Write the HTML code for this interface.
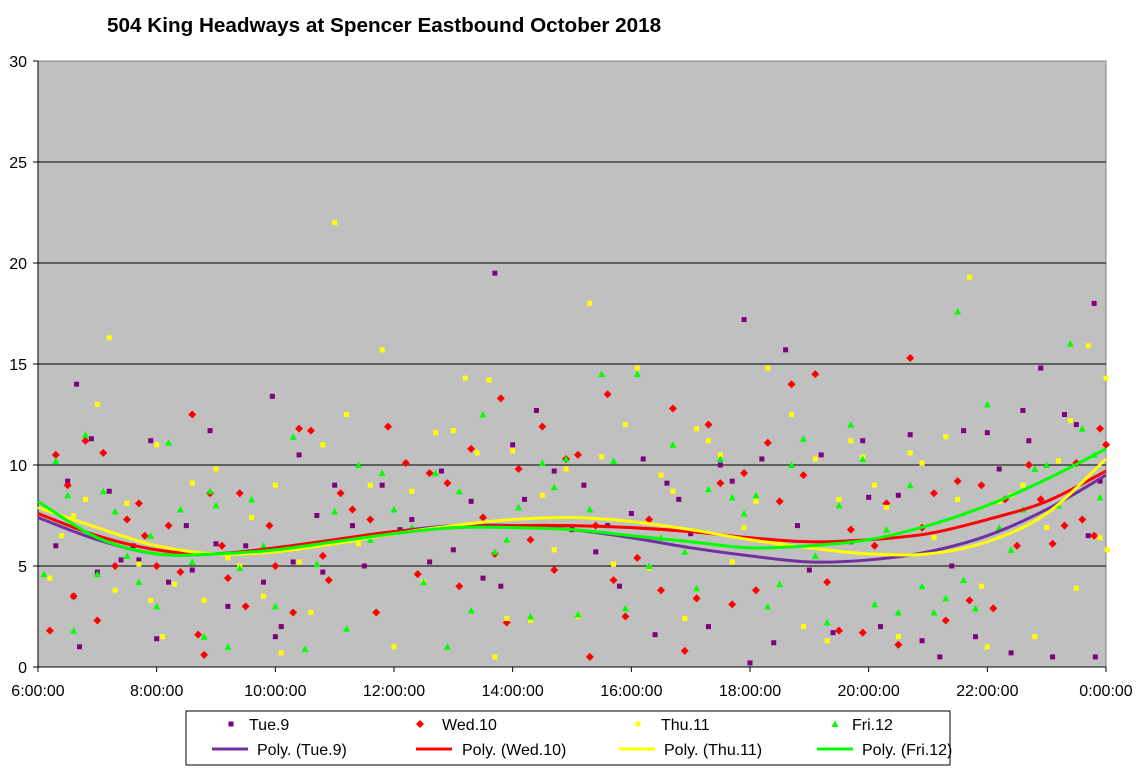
<!DOCTYPE html>
<html><head><meta charset="utf-8"><style>
body{margin:0;background:#fff;font-family:"Liberation Sans",Arial,sans-serif}
svg text{font-family:"Liberation Sans",Arial,sans-serif}
</style></head><body>
<svg id="c" width="1136" height="774" xmlns="http://www.w3.org/2000/svg">
<text x="107" y="32" font-size="20.7" font-weight="bold">504 King Headways at Spencer Eastbound October 2018</text>
<rect x="38" y="61" width="1068" height="606" fill="#c0c0c0" stroke="#808080"/>
<g id="grid"></g><g id="axes"></g><g id="marks"></g><g id="trends"></g>
<g>
<rect x="186" y="711" width="764" height="54" fill="#fff" stroke="#000"/>
</g>
<g id="leg"></g>
</svg>
<script>
const yTicks=[0,5,10,15,20,25,30];
const xTicks=[6,8,10,12,14,16,18,20,22,24];
const xTickLabels=["6:00:00","8:00:00","10:00:00","12:00:00","14:00:00","16:00:00","18:00:00","20:00:00","22:00:00","0:00:00"];
const tue=[[6.3,6.0],[6.5,9.2],[6.6,3.5],[6.65,14.0],[6.7,1.0],[6.9,11.3],[7.0,4.7],[7.2,8.7],[7.4,5.3],[7.6,6.0],[7.7,5.3],[7.9,11.2],[8.0,1.4],[8.2,4.2],[8.5,7.0],[8.6,4.8],[8.9,11.7],[9.0,6.1],[9.2,3.0],[9.5,6.0],[9.8,4.2],[9.95,13.4],[10.0,1.5],[10.1,2.0],[10.3,5.2],[10.4,10.5],[10.7,7.5],[10.8,4.7],[11.0,9.0],[11.3,7.0],[11.5,5.0],[11.8,9.0],[12.1,6.8],[12.3,7.3],[12.6,5.2],[12.8,9.7],[13.0,5.8],[13.3,8.2],[13.5,4.4],[13.7,19.5],[13.8,4.0],[14.0,11.0],[14.2,8.3],[14.4,12.7],[14.7,9.7],[15.0,6.8],[15.2,9.0],[15.4,5.7],[15.6,7.0],[15.8,4.0],[16.0,7.6],[16.2,10.3],[16.4,1.6],[16.6,9.1],[16.8,8.3],[17.0,6.6],[17.3,2.0],[17.5,10.0],[17.7,9.2],[17.9,17.2],[18.0,0.2],[18.2,10.3],[18.4,1.2],[18.6,15.7],[18.8,7.0],[19.0,4.8],[19.2,10.5],[19.4,1.7],[19.7,6.2],[19.9,11.2],[20.0,8.4],[20.2,2.0],[20.5,8.5],[20.7,11.5],[20.9,1.3],[21.2,0.5],[21.4,5.0],[21.6,11.7],[21.8,1.5],[22.0,11.6],[22.2,9.8],[22.4,0.7],[22.6,12.7],[22.7,11.2],[22.9,14.8],[23.1,0.5],[23.3,12.5],[23.5,12.0],[23.7,6.5],[23.8,18.0],[23.82,0.5],[23.9,9.2]];
const wed=[[6.2,1.8],[6.3,10.5],[6.5,9.0],[6.6,3.5],[6.8,11.2],[7.0,2.3],[7.1,10.6],[7.3,5.0],[7.5,7.3],[7.7,8.1],[7.8,6.5],[8.0,5.0],[8.2,7.0],[8.4,4.7],[8.6,12.5],[8.7,1.6],[8.8,0.6],[8.9,8.6],[9.1,6.0],[9.2,4.4],[9.4,8.6],[9.5,3.0],[9.8,5.8],[9.9,7.0],[10.0,5.0],[10.3,2.7],[10.4,11.8],[10.6,11.7],[10.8,5.5],[10.9,4.3],[11.1,8.6],[11.3,7.8],[11.6,7.3],[11.7,2.7],[11.9,11.9],[12.2,10.1],[12.4,4.6],[12.6,9.6],[12.9,9.1],[13.1,4.0],[13.3,10.8],[13.5,7.4],[13.7,5.6],[13.8,13.3],[13.9,2.2],[14.1,9.8],[14.3,6.3],[14.5,11.9],[14.7,4.8],[14.9,10.3],[15.1,10.5],[15.3,0.5],[15.4,7.0],[15.6,13.5],[15.7,4.3],[15.9,2.5],[16.1,5.4],[16.3,7.3],[16.5,3.8],[16.7,12.8],[16.9,0.8],[17.1,3.4],[17.3,12.0],[17.5,9.1],[17.7,3.1],[17.9,9.6],[18.1,3.8],[18.3,11.1],[18.5,8.2],[18.7,14.0],[18.9,9.5],[19.1,14.5],[19.3,4.2],[19.5,1.8],[19.7,6.8],[19.9,1.7],[20.1,6.0],[20.3,8.1],[20.5,1.1],[20.7,15.3],[20.9,6.9],[21.1,8.6],[21.3,2.3],[21.5,9.2],[21.7,3.3],[21.9,9.0],[22.1,2.9],[22.3,8.3],[22.5,6.0],[22.7,10.0],[22.9,8.3],[23.1,6.1],[23.3,7.0],[23.5,10.1],[23.6,7.3],[23.8,6.5],[23.9,11.8],[24.0,11.0]];
const thu=[[6.2,4.4],[6.4,6.5],[6.6,7.5],[6.8,8.3],[7.0,13.0],[7.2,16.3],[7.3,3.8],[7.5,8.1],[7.7,5.1],[7.9,3.3],[8.0,11.0],[8.1,1.5],[8.3,4.1],[8.6,9.1],[8.8,3.3],[9.0,9.8],[9.2,5.4],[9.4,5.0],[9.6,7.4],[9.8,3.5],[10.0,9.0],[10.1,0.7],[10.4,5.2],[10.6,2.7],[10.8,11.0],[11.0,22.0],[11.2,12.5],[11.4,6.1],[11.6,9.0],[11.8,15.7],[12.0,1.0],[12.3,8.7],[12.5,4.2],[12.7,11.6],[13.0,11.7],[13.2,14.3],[13.4,10.6],[13.6,14.2],[13.7,0.5],[13.9,2.4],[14.0,10.7],[14.3,2.3],[14.5,8.5],[14.7,5.8],[14.9,9.8],[15.1,2.5],[15.3,18.0],[15.5,10.4],[15.7,5.1],[15.9,12.0],[16.1,14.8],[16.3,4.9],[16.5,9.5],[16.7,8.7],[16.9,2.4],[17.1,11.8],[17.3,11.2],[17.5,10.5],[17.7,5.2],[17.9,6.9],[18.1,8.2],[18.3,14.8],[18.5,6.1],[18.7,12.5],[18.9,2.0],[19.1,10.3],[19.3,1.3],[19.5,8.3],[19.7,11.2],[19.9,10.4],[20.1,9.0],[20.3,7.9],[20.5,1.5],[20.7,10.6],[20.9,10.1],[21.1,6.4],[21.3,11.4],[21.5,8.3],[21.7,19.3],[21.9,4.0],[22.0,1.0],[22.2,8.2],[22.4,8.5],[22.6,9.0],[22.8,1.5],[23.0,6.9],[23.2,10.2],[23.4,12.2],[23.5,3.9],[23.7,15.9],[23.9,6.4],[24.0,14.3],[24.02,5.8]];
const fri=[[6.1,4.6],[6.3,10.2],[6.5,8.5],[6.6,1.8],[6.8,11.5],[7.0,4.6],[7.1,8.7],[7.3,7.7],[7.5,5.5],[7.7,4.2],[7.9,6.5],[8.0,3.0],[8.2,11.1],[8.4,7.8],[8.6,5.2],[8.8,1.5],[8.9,8.7],[9.0,8.0],[9.2,1.0],[9.4,4.9],[9.6,8.3],[9.8,6.0],[10.0,3.0],[10.3,11.4],[10.5,0.9],[10.7,5.1],[11.0,7.7],[11.2,1.9],[11.4,10.0],[11.6,6.3],[11.8,9.6],[12.0,7.8],[12.3,6.9],[12.5,4.2],[12.7,9.6],[12.9,1.0],[13.1,8.7],[13.3,2.8],[13.5,12.5],[13.7,5.7],[13.9,6.3],[14.1,7.9],[14.3,2.5],[14.5,10.1],[14.7,8.9],[14.9,10.3],[15.1,2.6],[15.3,7.8],[15.5,14.5],[15.7,10.2],[15.9,2.9],[16.1,14.5],[16.3,5.0],[16.5,6.4],[16.7,11.0],[16.9,5.7],[17.1,3.9],[17.3,8.8],[17.5,10.3],[17.7,8.4],[17.9,7.6],[18.1,8.5],[18.3,3.0],[18.5,4.1],[18.7,10.0],[18.9,11.3],[19.1,5.5],[19.3,2.2],[19.5,8.0],[19.7,12.0],[19.9,10.3],[20.1,3.1],[20.3,6.8],[20.5,2.7],[20.7,9.0],[20.9,4.0],[21.1,2.7],[21.3,3.4],[21.5,17.6],[21.6,4.3],[21.8,2.9],[22.0,13.0],[22.2,6.9],[22.4,5.8],[22.6,7.8],[22.8,9.8],[23.0,10.0],[23.2,8.0],[23.4,16.0],[23.6,11.8],[23.8,10.5],[23.9,8.4]];
const trendHours=[6,7,8,9,10,11,12,13,14,15,16,17,18,19,20,21,22,23,24];
const tueTrend=[7.4,6.3,5.6,5.6,5.9,6.3,6.7,7.0,7.0,6.8,6.4,5.9,5.5,5.2,5.3,5.7,6.5,7.8,9.5];
const wedTrend=[7.6,6.5,5.8,5.6,5.9,6.3,6.7,6.9,7.0,7.0,6.9,6.7,6.4,6.2,6.3,6.6,7.3,8.2,9.7];
const thuTrend=[7.9,6.9,6.0,5.6,5.7,6.1,6.6,7.0,7.3,7.4,7.2,6.8,6.3,5.9,5.6,5.6,6.2,7.6,10.3];
const friTrend=[8.2,6.4,5.6,5.6,5.8,6.2,6.6,6.9,6.9,6.8,6.5,6.2,5.9,6.0,6.3,7.0,8.0,9.3,10.8];

const NS="http://www.w3.org/2000/svg";
const X=h=>38+(h-6)*(1068/18);
const Y=v=>667-v*(606/30);
function mk(tag,attrs,parent){const e=document.createElementNS(NS,tag);for(const k in attrs)e.setAttribute(k,attrs[k]);parent.appendChild(e);return e;}
const grid=document.getElementById('grid'),axes=document.getElementById('axes'),marks=document.getElementById('marks'),trends=document.getElementById('trends'),leg=document.getElementById('leg');
yTicks.forEach(v=>{
  if(v>0&&v<30){const l=mk('line',{x1:38,x2:1106,y1:Y(v),y2:Y(v),stroke:'#000','stroke-width':1},grid);
  
  }
  const t=mk('text',{x:27,y:Y(v)+6,'text-anchor':'end','font-size':16},axes);t.textContent=v;
  
  
  mk('line',{x1:33,x2:38,y1:Y(v),y2:Y(v),stroke:'#000'},axes);
});
xTicks.forEach((h,i)=>{
  mk('line',{x1:X(h),x2:X(h),y1:667,y2:672,stroke:'#000'},axes);
  const t=mk('text',{x:X(h),y:696,'text-anchor':'middle','font-size':16},axes);t.textContent=xTickLabels[i];
  
  
});
mk('line',{x1:38,x2:38,y1:61,y2:667,stroke:'#000'},axes);
mk('line',{x1:38,x2:1106,y1:667,y2:667,stroke:'#000'},axes);
function marker(shape,color,cx,cy,parent){
  let e;
  if(shape==='sq')e=mk('rect',{x:cx-2.5,y:cy-2.5,width:5,height:5,fill:color},parent);
  else if(shape==='dia')e=mk('polygon',{points:`${cx},${cy-4} ${cx+4},${cy} ${cx},${cy+4} ${cx-4},${cy}`,fill:color},parent);
  else e=mk('polygon',{points:`${cx},${cy-3.5} ${cx+3.5},${cy+3} ${cx-3.5},${cy+3}`,fill:color},parent);
  return e;
}
const series=[
 {name:'tue',d:tue,t:tueTrend,shape:'sq',c:'#7f007f',lc:'#7030a0'},
 {name:'wed',d:wed,t:wedTrend,shape:'dia',c:'#ff0000',lc:'#ff0000'},
 {name:'thu',d:thu,t:thuTrend,shape:'sq',c:'#ffff00',lc:'#ffff00'},
 {name:'fri',d:fri,t:friTrend,shape:'tri',c:'#00ff00',lc:'#00ff00'}];
series.forEach(s=>{
  s.d.forEach((p,i)=>{const e=marker(s.shape,s.c,X(p[0]),Y(p[1]),marks);
    
    });
});
series.forEach(s=>{
  const pts=trendHours.map((h,i)=>[X(h),Y(s.t[i])]);
  let d=`M${pts[0][0]},${pts[0][1]}`;
  for(let i=0;i<pts.length-1;i++){
    const p0=pts[Math.max(0,i-1)],p1=pts[i],p2=pts[i+1],p3=pts[Math.min(pts.length-1,i+2)];
    const c1=[p1[0]+(p2[0]-p0[0])/6,p1[1]+(p2[1]-p0[1])/6],c2=[p2[0]-(p3[0]-p1[0])/6,p2[1]-(p3[1]-p1[1])/6];
    d+=` C${c1[0]},${c1[1]} ${c2[0]},${c2[1]} ${p2[0]},${p2[1]}`;
  }
  const e=mk('path',{d:d,fill:'none',stroke:s.lc,'stroke-width':3},trends);
  
  
});
const legText=['Tue.9','Wed.10','Thu.11','Fri.12'];
const legMx=[231,420,638,835],legTx=[249,442,661,852];
const legLx=[212,416,619,817],legLt=[257,462,664,862];
series.forEach((s,i)=>{
  const m=marker(s.shape,s.c,legMx[i],724,leg);
  
  
  const t=mk('text',{x:legTx[i],y:730,'font-size':16},leg);t.textContent=legText[i];
  
  
  const l=mk('line',{x1:legLx[i],x2:legLx[i]+36,y1:749,y2:749,stroke:s.lc,'stroke-width':3},leg);
  
  
  const t2=mk('text',{x:legLt[i],y:755,'font-size':16},leg);t2.textContent='Poly. ('+legText[i]+')';
  
  
});
</script>
</body></html>
